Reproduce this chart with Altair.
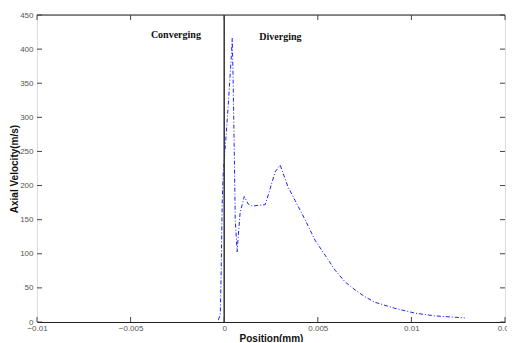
import altair as alt
import pandas as pd

# Curve data (position in mm, axial velocity in m/s)
pos = [-0.00032, -0.00021, -0.00016, -0.00011, -0.00008, -0.00005, 0.00005,
       0.00021, 0.00037, 0.00043, 0.00048, 0.00053, 0.00059, 0.00069, 0.00075,
       0.00085, 0.00107, 0.00128, 0.00149, 0.00181, 0.00219, 0.00245, 0.00272,
       0.00299, 0.00341, 0.00379, 0.00432, 0.00485, 0.00539, 0.00592, 0.00645,
       0.00699, 0.00752, 0.00805, 0.00912, 0.01019, 0.01125, 0.01285]
vel = [3, 10, 77, 171, 198, 220, 254,
       315, 385, 416, 350, 262, 150, 103, 126,
       160, 184, 173, 170, 171, 172, 195, 220,
       230, 198, 178, 150, 120, 98, 76, 59,
       47, 37, 29, 20, 13, 9, 6]

x_ticks = [-0.01, -0.005, 0, 0.005, 0.01, 0.015]
y_ticks = [0, 50, 100, 150, 200, 250, 300, 350, 400, 450]

labels = ["Converging", "Diverging"]
label_x = [-0.00258, 0.0030]
label_y = [421, 418]

W, H = 468, 307

curve = pd.DataFrame({"x": pos, "y": vel})
xt = pd.DataFrame({"x": x_ticks})
yt = pd.DataFrame({"y": y_ticks})
ann = pd.DataFrame({"t": labels, "x": label_x, "y": label_y})

xscale = alt.Scale(domain=[-0.01, 0.015], nice=False, zero=False)
yscale = alt.Scale(domain=[0, 450], nice=False)

xaxis = alt.Axis(values=x_ticks, format="~g", ticks=False, domain=True,
                 domainColor="#222222", domainWidth=1.2, grid=False,
                 labelFont="Liberation Sans", labelFontSize=8, labelColor="#555555",
                 labelPadding=2, labelOverlap=False, title="Position(mm)",
                 titleFont="Liberation Sans",
                 titleFontSize=10, titleFontWeight="bold", titleColor="#111111",
                 titlePadding=1, labelFlush=False)
yaxis = alt.Axis(values=y_ticks, ticks=False, domain=False, grid=False,
                 labelFont="Liberation Sans", labelFontSize=8, labelColor="#555555",
                 labelPadding=4, labelOverlap=False, title="Axial Velocity(m/s)",
                 titleFont="Liberation Sans",
                 titleFontSize=10, titleFontWeight="bold", titleColor="#111111",
                 titleX=-18, titleY=H / 2, titleAngle=-90, titleBaseline="bottom",
                 titleAlign="center")

X = lambda: alt.X("x:Q", scale=xscale, axis=xaxis, title="Position(mm)")
Y = lambda: alt.Y("y:Q", scale=yscale, axis=yaxis, title="Axial Velocity(m/s)")

line = alt.Chart(curve).mark_line(color="#2020ff", strokeWidth=1,
                                   strokeDash=[4, 2, 1, 2]).encode(
    x=X(), y=Y(), order=alt.Order("x:Q"),
)

vline = alt.Chart(pd.DataFrame({"x": [0]})).mark_rule(color="#333333", strokeWidth=1.5).encode(
    x=X(), y=alt.value(0), y2=alt.value(H))

topline = alt.Chart(pd.DataFrame({"x": [0]})).mark_rule(color="#222222", strokeWidth=1.2).encode(
    x=alt.value(0), x2=alt.value(W), y=alt.value(0))

bt = alt.Chart(xt).mark_rule(color="#444444").encode(
    x=X(), y=alt.value(H), y2=alt.value(H - 5))
tt = alt.Chart(xt).mark_rule(color="#444444").encode(
    x=X(), y=alt.value(0), y2=alt.value(5))
lt = alt.Chart(yt).mark_rule(color="#444444").encode(
    y=Y(), x=alt.value(0), x2=alt.value(5))
rt = alt.Chart(yt).mark_rule(color="#444444").encode(
    y=Y(), x=alt.value(W - 5), x2=alt.value(W))

text = alt.Chart(ann).mark_text(font="Liberation Serif", fontSize=10, fontWeight="bold",
                                color="#111111").encode(
    x=X(), y=Y(), text="t:N")

chart = alt.layer(line, vline, topline, bt, tt, lt, rt, text).properties(
    width=W, height=H,
    autosize=alt.AutoSizeParams(type="none"),
    padding={"left": 29, "top": 7, "right": 2, "bottom": 20},
).configure_view(stroke="transparent", strokeWidth=0).configure(background="white")

chart.save("out.html", embed_options={"renderer": "svg", "actions": False})
